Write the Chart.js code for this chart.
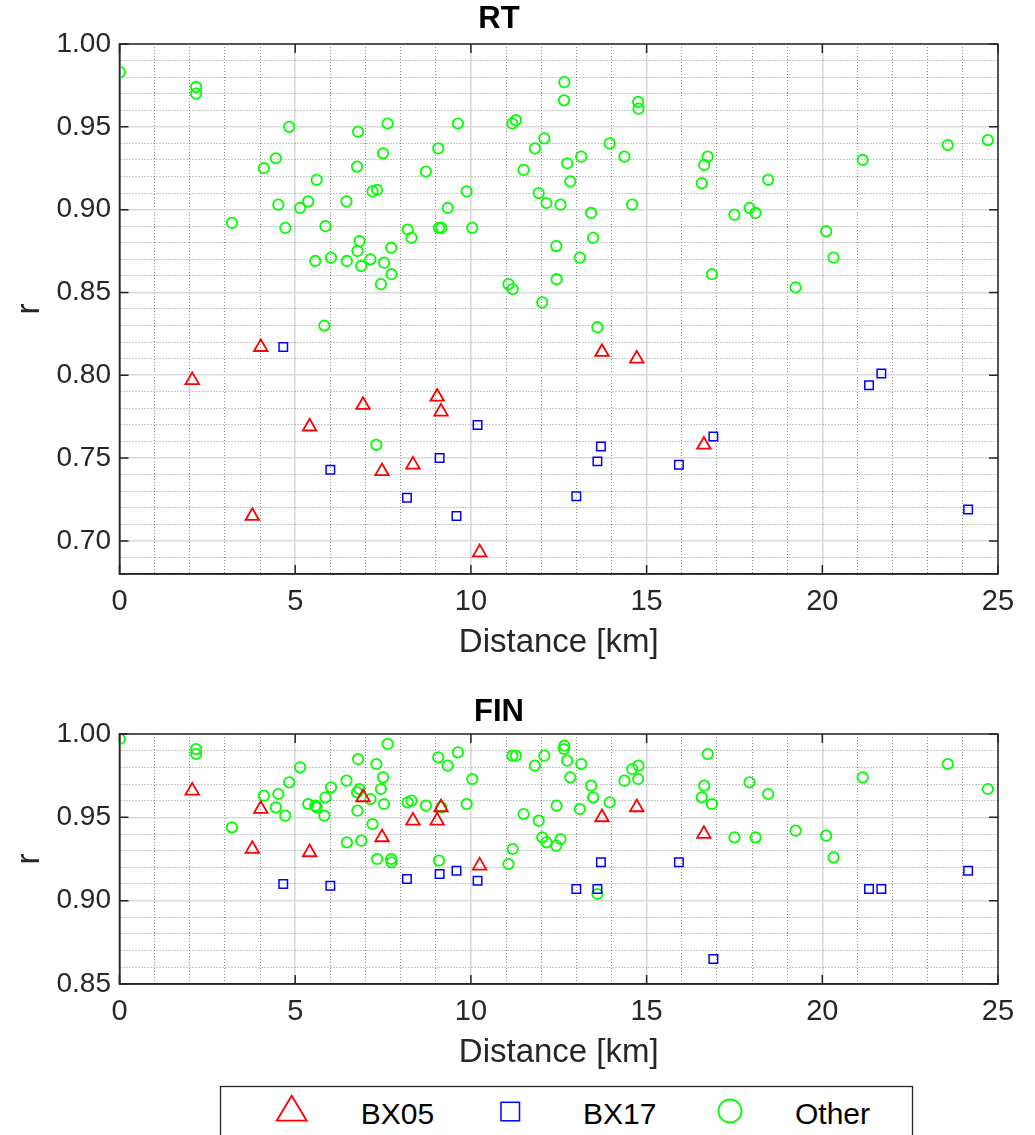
<!DOCTYPE html>
<html>
<head>
<meta charset="utf-8">
<script src="https://cdn.jsdelivr.net/npm/chart.js@4.4.1/dist/chart.umd.min.js"></script>
<style>
  html, body { margin: 0; padding: 0; background: #fff; overflow: hidden; }
  canvas { position: absolute; left: 0; }
  #rtChart { top: 0; }
  #finChart { top: 670px; }
  #legend { position: absolute; left: 0; top: 1080px; }
</style>
</head>
<body>
<canvas id="rtChart" width="1035" height="670"></canvas>
<canvas id="finChart" width="1035" height="410"></canvas>
<svg id="legend" width="1035" height="60" font-family="Liberation Sans, Arial, sans-serif" font-size="30">
  <rect x="220.5" y="6.5" width="692" height="80" fill="#fff" stroke="#262626" stroke-width="1.3"/>
  <polygon points="291.7,15.7 276.7,40.7 306.7,40.7" fill="none" stroke="#ff0000" stroke-width="1.8"/>
  <text x="360.7" y="44.3" fill="#000">BX05</text>
  <rect x="501" y="22.3" width="18.5" height="18.5" fill="none" stroke="#0000ff" stroke-width="1.5"/>
  <text x="583" y="44.3" fill="#000">BX17</text>
  <circle cx="730" cy="31" r="11.5" fill="none" stroke="#00ff00" stroke-width="1.8"/>
  <text x="795" y="44.3" fill="#000">Other</text>
</svg>
<script>
// station distances [km]
const otherDist = [0.01, 2.18, 2.18, 3.20, 4.11, 4.45, 4.52, 4.72, 4.83, 5.14, 5.37, 5.57, 5.61, 5.83, 5.86, 6.02, 6.46, 6.47, 6.76, 6.77, 6.79, 6.83, 6.88, 7.14, 7.20, 7.31, 7.33, 7.44, 7.50, 7.53, 7.63, 7.73, 7.74, 8.20, 8.31, 8.72, 9.07, 9.09, 9.16, 9.34, 9.63, 9.88, 10.04, 11.07, 11.18, 11.19, 11.28, 11.50, 11.82, 11.93, 12.03, 12.09, 12.15, 12.43, 12.44, 12.55, 12.65, 12.66, 12.74, 12.83, 13.10, 13.14, 13.42, 13.48, 13.60, 13.95, 14.37, 14.59, 14.76, 14.77, 16.57, 16.64, 16.74, 16.86, 17.50, 17.93, 18.10, 18.46, 19.24, 20.11, 20.32, 21.15, 23.57, 24.71];
const otherRT = [0.983, 0.974, 0.970, 0.892, 0.925, 0.931, 0.903, 0.889, 0.950, 0.901, 0.905, 0.869, 0.918, 0.830, 0.890, 0.871, 0.905, 0.869, 0.926, 0.875, 0.947, 0.881, 0.866, 0.870, 0.911, 0.758, 0.912, 0.855, 0.934, 0.868, 0.952, 0.877, 0.861, 0.888, 0.883, 0.923, 0.937, 0.889, 0.889, 0.901, 0.952, 0.911, 0.889, 0.855, 0.952, 0.852, 0.954, 0.924, 0.937, 0.910, 0.844, 0.943, 0.904, 0.878, 0.858, 0.903, 0.966, 0.977, 0.928, 0.917, 0.871, 0.932, 0.898, 0.883, 0.829, 0.940, 0.932, 0.903, 0.965, 0.961, 0.916, 0.927, 0.932, 0.861, 0.897, 0.901, 0.898, 0.918, 0.853, 0.887, 0.871, 0.930, 0.939, 0.942];
const otherFIN = [0.997, 0.991, 0.988, 0.944, 0.963, 0.956, 0.964, 0.951, 0.971, 0.980, 0.958, 0.957, 0.956, 0.951, 0.962, 0.968, 0.972, 0.935, 0.965, 0.954, 0.985, 0.967, 0.936, 0.961, 0.946, 0.982, 0.925, 0.967, 0.974, 0.958, 0.994, 0.925, 0.923, 0.959, 0.960, 0.957, 0.986, 0.924, 0.956, 0.981, 0.989, 0.958, 0.973, 0.922, 0.987, 0.931, 0.987, 0.952, 0.981, 0.948, 0.938, 0.987, 0.935, 0.933, 0.957, 0.937, 0.991, 0.993, 0.984, 0.974, 0.955, 0.982, 0.969, 0.962, 0.904, 0.959, 0.972, 0.979, 0.973, 0.981, 0.962, 0.969, 0.988, 0.958, 0.938, 0.971, 0.938, 0.964, 0.942, 0.939, 0.926, 0.974, 0.982, 0.967];

const bx05Dist = [2.07, 3.78, 4.02, 5.41, 6.93, 7.47, 8.35, 9.04, 9.15, 10.25, 13.73, 14.72, 16.63];
const bx05RT = [0.797, 0.715, 0.817, 0.769, 0.782, 0.742, 0.746, 0.787, 0.778, 0.693, 0.814, 0.810, 0.758];
const bx05FIN = [0.966, 0.931, 0.955, 0.929, 0.962, 0.938, 0.948, 0.948, 0.956, 0.921, 0.950, 0.956, 0.940];

const bx17Dist = [4.66, 6.00, 8.18, 9.11, 9.59, 10.19, 13.00, 13.60, 13.70, 15.92, 16.90, 21.33, 21.68, 24.15];
const bx17RT = [0.817, 0.743, 0.726, 0.750, 0.715, 0.770, 0.727, 0.748, 0.757, 0.746, 0.763, 0.794, 0.801, 0.719];
const bx17FIN = [0.910, 0.909, 0.913, 0.916, 0.918, 0.912, 0.907, 0.907, 0.923, 0.923, 0.865, 0.907, 0.907, 0.918];

// labelled ticks
const xMajorTicks = [0, 5, 10, 15, 20, 25];
const rtMajorTicks = [0.70, 0.75, 0.80, 0.85, 0.90, 0.95, 1.00];
const finMajorTicks = [0.85, 0.90, 0.95, 1.00];

const FONT = 'Liberation Sans, Arial, Helvetica, sans-serif';
const AXIS_COLOR = '#262626';

const pts = (xs, ys) => xs.map((x, i) => ({ x: x, y: ys[i] }));
const near = (list, v) => list.some(m => Math.abs(m - v) < 1e-6);

// box around the axes + inward tick marks like matlab
const matlabBox = {
  id: 'matlabBox',
  afterDraw(chart, args, opts) {
    const { ctx, chartArea: a, scales } = chart;
    ctx.save();
    ctx.strokeStyle = AXIS_COLOR;
    ctx.lineWidth = 1.5;
    ctx.strokeRect(a.left, a.top, a.right - a.left, a.bottom - a.top);
    ctx.beginPath();
    xMajorTicks.forEach(v => {
      const px = scales.x.getPixelForValue(v);
      ctx.moveTo(px, a.bottom); ctx.lineTo(px, a.bottom - 9);
      ctx.moveTo(px, a.top); ctx.lineTo(px, a.top + 9);
    });
    opts.yTicks.forEach(v => {
      const py = scales.y.getPixelForValue(v);
      ctx.moveTo(a.left, py); ctx.lineTo(a.left + 9, py);
      ctx.moveTo(a.right, py); ctx.lineTo(a.right - 9, py);
    });
    ctx.stroke();
    ctx.restore();
  }
};

function gridOpts(isMajor) {
  return {
    grid: {
      drawTicks: false,
      color: c => (c.tick && isMajor(c.tick.value)) ? '#d9d9d9' : 'rgba(70,70,70,0.6)',
      lineWidth: c => (c.tick && isMajor(c.tick.value)) ? 1.6 : 1
    },
    border: {
      color: AXIS_COLOR,
      width: 1.5,
      dash: c => (!c.tick || isMajor(c.tick.value)) ? [] : [1, 2]
    }
  };
}

function makeChart(id, title, rt, yMin, yTicks, titlePad) {
  const isMajorX = v => near(xMajorTicks, v);
  const isMajorY = v => near(yTicks, Math.round(v * 100) / 100);
  const gx = gridOpts(isMajorX);
  const gy = gridOpts(isMajorY);
  const series = rt === 'RT'
    ? [bx05RT, bx17RT, otherRT]
    : [bx05FIN, bx17FIN, otherFIN];

  return new Chart(document.getElementById(id), {
    type: 'scatter',
    data: {
      datasets: [
        {
          label: 'BX05',
          data: pts(bx05Dist, series[0]),
          pointStyle: 'triangle',
          pointRadius: 7.8,
          borderColor: '#ff0000',
          backgroundColor: 'rgba(0,0,0,0)',
          pointBorderWidth: 1.8
        },
        {
          label: 'BX17',
          data: pts(bx17Dist, series[1]),
          pointStyle: 'rect',
          pointRadius: 6,
          borderColor: '#0000ff',
          backgroundColor: 'rgba(0,0,0,0)',
          pointBorderWidth: 1.5
        },
        {
          label: 'Other',
          data: pts(otherDist, series[2]),
          pointStyle: 'circle',
          pointRadius: 5.2,
          borderColor: '#00ff00',
          backgroundColor: 'rgba(0,0,0,0)',
          pointBorderWidth: 1.8
        }
      ]
    },
    options: {
      responsive: false,
      animation: false,
      events: [],
      layout: { padding: { left: 0, right: 37, top: 0, bottom: 0 } },
      plugins: {
        legend: { display: false },
        tooltip: { enabled: false },
        title: {
          display: true,
          text: title,
          color: '#000',
          font: { family: FONT, size: 31, weight: 'bold', lineHeight: 1.2 },
          padding: titlePad
        },
        matlabBox: { yTicks: yTicks }
      },
      scales: {
        x: {
          type: 'linear',
          min: 0,
          max: 25,
          afterFit: s => { s.height = 96; },
          ticks: {
            stepSize: 1,
            autoSkip: false,
            maxRotation: 0,
            padding: 11,
            color: AXIS_COLOR,
            font: { family: FONT, size: 29 },
            callback: v => isMajorX(v) ? String(v) : ''
          },
          title: {
            display: true,
            text: 'Distance [km]',
            color: AXIS_COLOR,
            font: { family: FONT, size: 33, lineHeight: 1.2 },
            padding: { top: 0, bottom: 7 }
          },
          grid: gx.grid,
          border: gx.border
        },
        y: {
          type: 'linear',
          min: yMin,
          max: 1.0,
          afterFit: s => { s.width = 119.5; },
          ticks: {
            stepSize: 0.01,
            autoSkip: false,
            padding: 8.5,
            color: AXIS_COLOR,
            font: { family: FONT, size: 28 },
            callback: v => isMajorY(v) ? v.toFixed(2) : ''
          },
          title: {
            display: true,
            text: 'r',
            color: AXIS_COLOR,
            font: { family: FONT, size: 33, lineHeight: 1.2 },
            padding: { top: 10, bottom: 0 }
          },
          grid: gy.grid,
          border: gy.border
        }
      }
    },
    plugins: [matlabBox]
  });
}

makeChart('rtChart', 'RT', 'RT', 0.68, rtMajorTicks, { top: 0.4, bottom: 6.4 });
makeChart('finChart', 'FIN', 'FIN', 0.85, finMajorTicks, { top: 23.4, bottom: 3.4 });
</script>
</body>
</html>
